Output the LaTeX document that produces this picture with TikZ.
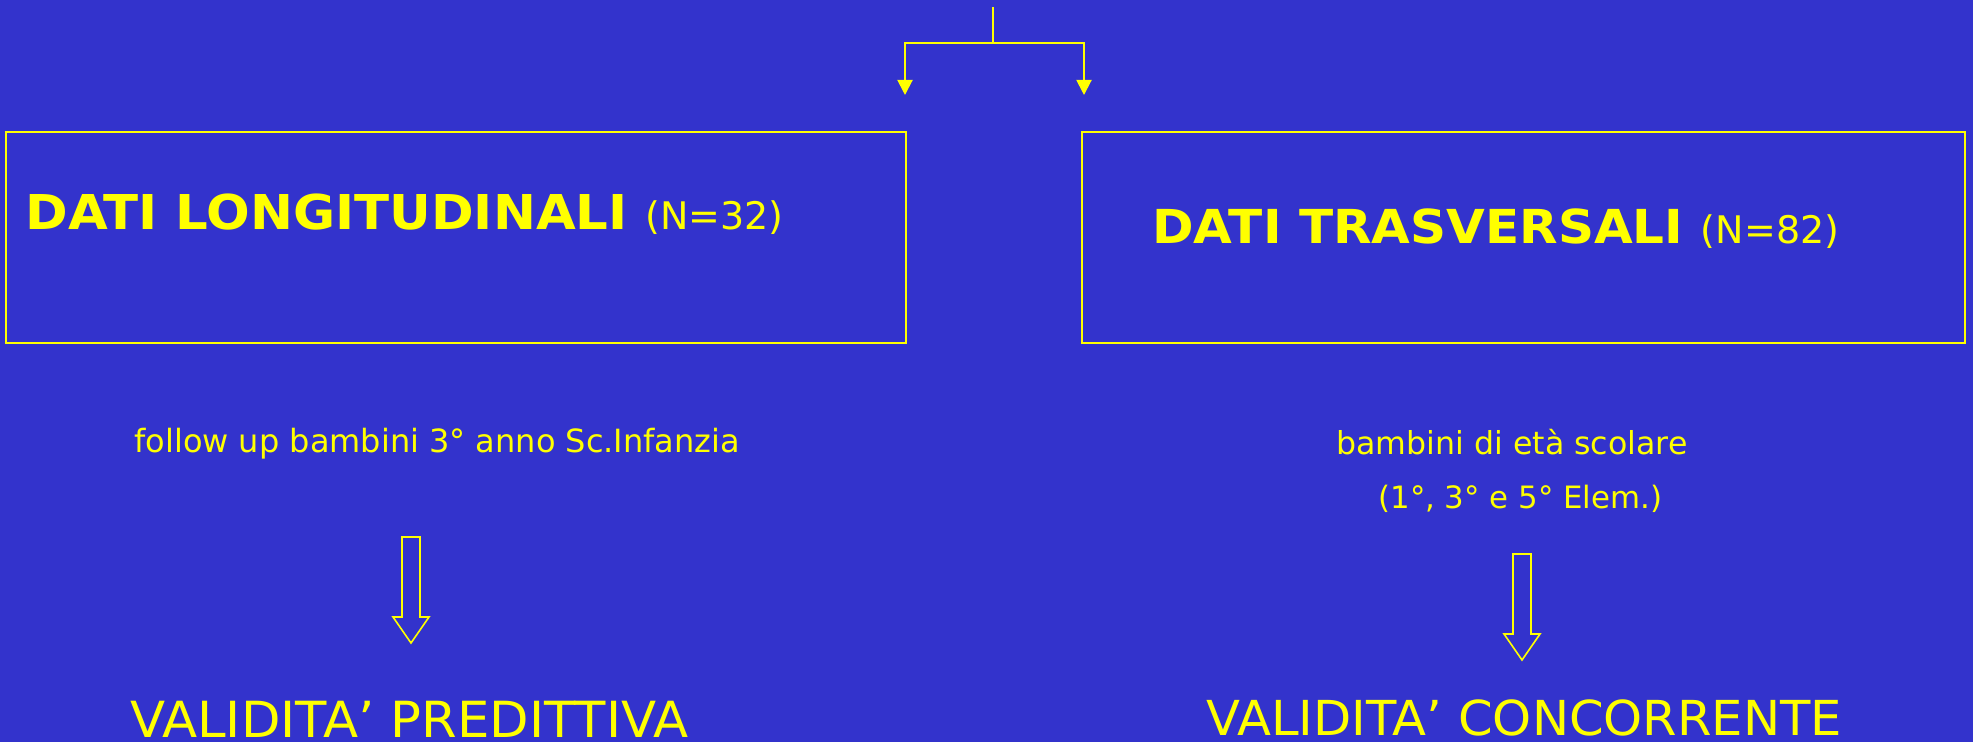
\documentclass[tikz,border=0pt]{standalone}
\usepackage{fontspec}
\setmainfont{DejaVu Sans}
\newfontface\headbold{DejaVu Sans Bold}[FakeStretch=1.07]
\newfontface\widereg{DejaVu Sans}[FakeStretch=1.03]
\usetikzlibrary{arrows.meta}
\definecolor{slidebg}{RGB}{51,51,204}
\definecolor{slideyellow}{RGB}{255,255,0}
\begin{document}
\begin{tikzpicture}[x=0.5pt,y=-0.5pt,
  databox/.style={draw=slideyellow, line width=1pt, inner sep=0pt, anchor=north west},
  label/.style={text=slideyellow, inner sep=0pt, anchor=base west},
  branch/.style={draw=slideyellow, line width=1pt, -{Triangle[width=7.5pt,length=7.5pt]}},
  blockarrow/.style={draw=slideyellow, line width=0.8pt, line join=miter}]
  % slide background and page size
  \fill[slidebg] (0,0) rectangle (1973,742);
  \useasboundingbox (0,0) rectangle (1973,742);

  % the two data boxes
  \node[databox, minimum width=450pt, minimum height=105.5pt] (longbox) at (5,131) {};
  \node[databox, minimum width=441.5pt, minimum height=105.5pt] (trasbox) at (1081,131) {};

  % box headings
  \node[label] (longtitle) at (25,230)
    {\fontsize{24pt}{28pt}\headbold DATI LONGITUDINALI\ \normalfont\fontsize{19pt}{22pt}\selectfont(N=32)};
  \node[label] (trastitle) at (1152,244)
    {\fontsize{23.4pt}{28pt}\headbold DATI TRASVERSALI\ \normalfont\fontsize{19pt}{22pt}\selectfont(N=82)};

  % branching connector at the top
  \coordinate (stem) at (993,7);
  \coordinate (split) at (993,43);
  \coordinate (tipL) at (905,95);
  \coordinate (tipR) at (1084,95);
  \draw[draw=slideyellow, line width=1pt] (stem) -- (split);
  \draw[branch] (split) -| (tipL);
  \draw[branch] (split) -| (tipR);

  % sample descriptions
  \node[label] (followup) at (134,452)
    {\fontsize{16pt}{20pt}\selectfont follow up bambini 3° anno Sc.Infanzia};
  \node[label] (scolare) at (1336,455)
    {\fontsize{15.8pt}{20pt}\selectfont bambini di età scolare};
  \node[label] (classi) at (1378,508)
    {\fontsize{15.4pt}{20pt}\selectfont (1°, 3° e 5° Elem.)};

  % hollow block arrows
  \coordinate (arrL) at (411,537);
  \draw[blockarrow] (arrL) ++(-9,0) -- ++(0,80) -- ++(-9,0) -- ++(18,26) -- ++(18,-26)
    -- ++(-9,0) -- ++(0,-80) -- cycle;
  \coordinate (arrR) at (1522,554);
  \draw[blockarrow] (arrR) ++(-9,0) -- ++(0,80) -- ++(-9,0) -- ++(18,26) -- ++(18,-26)
    -- ++(-9,0) -- ++(0,-80) -- cycle;

  % outcomes
  \node[label] (predittiva) at (130,737)
    {\fontsize{24.9pt}{28pt}\widereg VALIDITA’ PREDITTIVA};
  \node[label] (concorrente) at (1206,735)
    {\fontsize{24.1pt}{28pt}\widereg VALIDITA’ CONCORRENTE};
\end{tikzpicture}
\end{document}
